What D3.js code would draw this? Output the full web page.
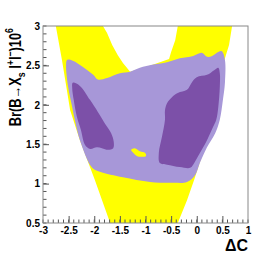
<!DOCTYPE html>
<html>
<head>
<meta charset="utf-8">
<script src="https://cdn.jsdelivr.net/npm/d3@7"></script>
<style>
  body { margin: 0; background: #fff; }
  svg { display: block; font-family: "Liberation Sans", Arial, sans-serif; }
</style>
</head>
<body>
<div class="visHolder"></div>
<script>
const w = 276, h = 264;
const margin = {left: 43, right: 28, top: 26, bottom: 41};

const xDomain = [-3, 1];
const yDomain = [0.5, 3];
const xTicks = [-3, -2.5, -2, -1.5, -1, -0.5, 0, 0.5, 1];
const yTicks = [0.5, 1, 1.5, 2, 2.5, 3];

// outer (yellow) allowed region, [dC, Br]
const yellowRegion = [
  [-2.75, 3.0], [-2.63, 2.57], [-2.47, 1.93], [-2.28, 1.55], [-1.99, 1.05], [-1.69, 0.5],
  [-0.37, 0.5], [-0.19, 0.79], [-0.05, 1.05], [0.0, 1.15], [0.14, 1.43], [0.30, 1.74],
  [0.40, 2.06], [0.47, 2.38], [0.54, 2.57], [0.63, 2.76], [0.69, 3.0],
  [-0.37, 3.0], [-0.42, 2.82], [-0.50, 2.67], [-0.54, 2.58], [-0.9, 2.5], [-1.30, 2.42],
  [-1.44, 2.53], [-1.54, 2.63], [-1.65, 2.76], [-1.75, 2.91], [-1.83, 3.0]
];

// light purple region
const lightRegion = [
  [-2.53, 2.57], [-2.42, 2.56], [-2.22, 2.48], [-2.02, 2.38], [-1.93, 2.32], [-1.75, 2.34],
  [-1.50, 2.40], [-1.30, 2.42], [-1.11, 2.47], [-0.85, 2.51], [-0.58, 2.54], [-0.33, 2.59],
  [-0.07, 2.62], [0.10, 2.66], [0.20, 2.61], [0.30, 2.62], [0.42, 2.67], [0.49, 2.68],
  [0.55, 2.57], [0.55, 2.28], [0.51, 2.06], [0.45, 1.81], [0.36, 1.64], [0.20, 1.46],
  [0.06, 1.26], [-0.03, 1.11], [-0.19, 1.02], [-0.46, 1.01], [-0.91, 1.02], [-1.44, 1.08],
  [-1.89, 1.15], [-2.04, 1.20], [-2.28, 1.55], [-2.38, 1.81], [-2.43, 1.97], [-2.51, 2.23],
  [-2.55, 2.50]
];

// dark purple regions
const darkLeft = [
  [-2.42, 2.28], [-2.28, 2.24], [-2.08, 2.06], [-1.93, 1.91], [-1.77, 1.74], [-1.67, 1.64],
  [-1.62, 1.53], [-1.63, 1.45], [-1.73, 1.43], [-1.85, 1.45], [-1.95, 1.46], [-2.08, 1.44],
  [-2.18, 1.49], [-2.26, 1.68], [-2.34, 1.85], [-2.40, 2.06], [-2.43, 2.21]
];
const darkRight = [
  [0.42, 2.47], [0.45, 2.40], [0.45, 2.23], [0.42, 1.97], [0.38, 1.81], [0.32, 1.72],
  [0.20, 1.55], [0.02, 1.34], [-0.07, 1.24], [-0.13, 1.20], [-0.33, 1.21], [-0.58, 1.24],
  [-0.72, 1.26], [-0.74, 1.39], [-0.68, 1.59], [-0.62, 1.81], [-0.62, 1.93], [-0.58, 2.02],
  [-0.48, 2.10], [-0.37, 2.15], [-0.19, 2.19], [-0.09, 2.29], [0.0, 2.35], [0.20, 2.38],
  [0.34, 2.44]
];

// small yellow island
const yellowIsland = [
  [-1.28, 1.43], [-1.21, 1.45], [-1.11, 1.41], [-1.01, 1.39], [-0.99, 1.35], [-1.07, 1.34],
  [-1.17, 1.35], [-1.24, 1.39]
];

const svg = d3.select('.visHolder')
  .append('svg')
  .attr('width', w)
  .attr('height', h);

const xScale = d3.scaleLinear().domain(xDomain).range([margin.left, w - margin.right]);
const yScale = d3.scaleLinear().domain(yDomain).range([h - margin.bottom, margin.top]);

svg.append('clipPath').attr('id', 'frame')
  .append('rect')
  .attr('x', margin.left).attr('y', margin.top)
  .attr('width', w - margin.left - margin.right)
  .attr('height', h - margin.top - margin.bottom);

const line = d3.line()
  .x(d => xScale(d[0]))
  .y(d => yScale(d[1]))
  .curve(d3.curveCatmullRomClosed.alpha(0.5));

const regions = svg.append('g').attr('clip-path', 'url(#frame)');

regions.append('path').datum(yellowRegion)
  .attr('d', d3.line().x(d => xScale(d[0])).y(d => yScale(d[1])).curve(d3.curveLinearClosed))
  .attr('fill', '#ffff00');
regions.append('path').datum(lightRegion).attr('d', line).attr('fill', '#a797d8');
regions.append('path').datum(darkLeft).attr('d', line).attr('fill', '#7c50a8');
regions.append('path').datum(darkRight).attr('d', line).attr('fill', '#7c50a8');
regions.append('path').datum(yellowIsland).attr('d', line).attr('fill', '#ffff00');

// axes, ROOT style: ticks inside the frame
const xMinor = d3.range(-3, 1.0001, 0.1);
const yMinor = d3.range(0.5, 3.0001, 0.1);

const xAxis = d3.axisBottom(xScale)
  .tickValues(xTicks)
  .tickSize(-7)
  .tickFormat(d => String(d));
svg.append('g')
  .attr('id', 'x-axis')
  .attr('transform', `translate(0, ${h - margin.bottom})`)
  .call(xAxis)
  .call(g => g.selectAll('.tick').filter(d => d === -3 || d === 1).select('line').remove());

svg.append('g')
  .attr('transform', `translate(0, ${h - margin.bottom})`)
  .selectAll('line')
  .data(xMinor)
  .enter()
  .append('line')
  .attr('x1', d => xScale(d)).attr('x2', d => xScale(d))
  .attr('y1', 0).attr('y2', -3.5)
  .attr('stroke', '#555');

const yAxis = d3.axisLeft(yScale)
  .tickValues(yTicks)
  .tickSize(-6)
  .tickFormat(d => String(d));
svg.append('g')
  .attr('id', 'y-axis')
  .attr('transform', `translate(${margin.left}, 0)`)
  .call(yAxis)
  .call(g => g.selectAll('.tick').filter(d => d === 0.5 || d === 3).select('line').remove());

svg.append('g')
  .attr('transform', `translate(${margin.left}, 0)`)
  .selectAll('line')
  .data(yMinor)
  .enter()
  .append('line')
  .attr('x1', 0).attr('x2', 3.5)
  .attr('y1', d => yScale(d)).attr('y2', d => yScale(d))
  .attr('stroke', '#555');

svg.selectAll('#x-axis .domain, #y-axis .domain').remove();
svg.selectAll('#x-axis .tick line, #y-axis .tick line').attr('stroke', '#555');

svg.selectAll('#x-axis .tick text')
  .attr('y', 4)
  .attr('font-size', 10)
  .attr('font-weight', 'bold')
  .attr('fill', '#000');
svg.selectAll('#y-axis .tick text')
  .attr('x', -3)
  .attr('font-size', 10)
  .attr('font-weight', 'bold')
  .attr('fill', '#000');

// frame
svg.append('rect')
  .attr('x', margin.left).attr('y', margin.top)
  .attr('width', w - margin.left - margin.right)
  .attr('height', h - margin.top - margin.bottom)
  .attr('fill', 'none')
  .attr('stroke', '#888')
  .attr('stroke-width', 1);

// axis titles
svg.append('text')
  .attr('x', w - margin.right)
  .attr('y', 251)
  .attr('text-anchor', 'end')
  .attr('font-size', 16)
  .attr('font-weight', 'bold')
  .text('ΔC');

const ytitle = svg.append('text')
  .attr('transform', `translate(21, 28) rotate(-90) scale(0.8, 1)`)
  .attr('text-anchor', 'end')
  .attr('font-size', 16)
  .attr('font-weight', 'bold');
ytitle.append('tspan').text('Br(B→X');
ytitle.append('tspan').attr('font-size', 11).attr('dy', 4).text('s');
ytitle.append('tspan').attr('dy', -4).text(' l');
ytitle.append('tspan').attr('font-size', 11).attr('dy', -7).text('+');
ytitle.append('tspan').attr('dy', 7).text('l');
ytitle.append('tspan').attr('font-size', 11).attr('dy', -7).text('−');
ytitle.append('tspan').attr('dy', 7).text(')10');
ytitle.append('tspan').attr('font-size', 11).attr('dy', -8).text('6');
</script>
</body>
</html>
